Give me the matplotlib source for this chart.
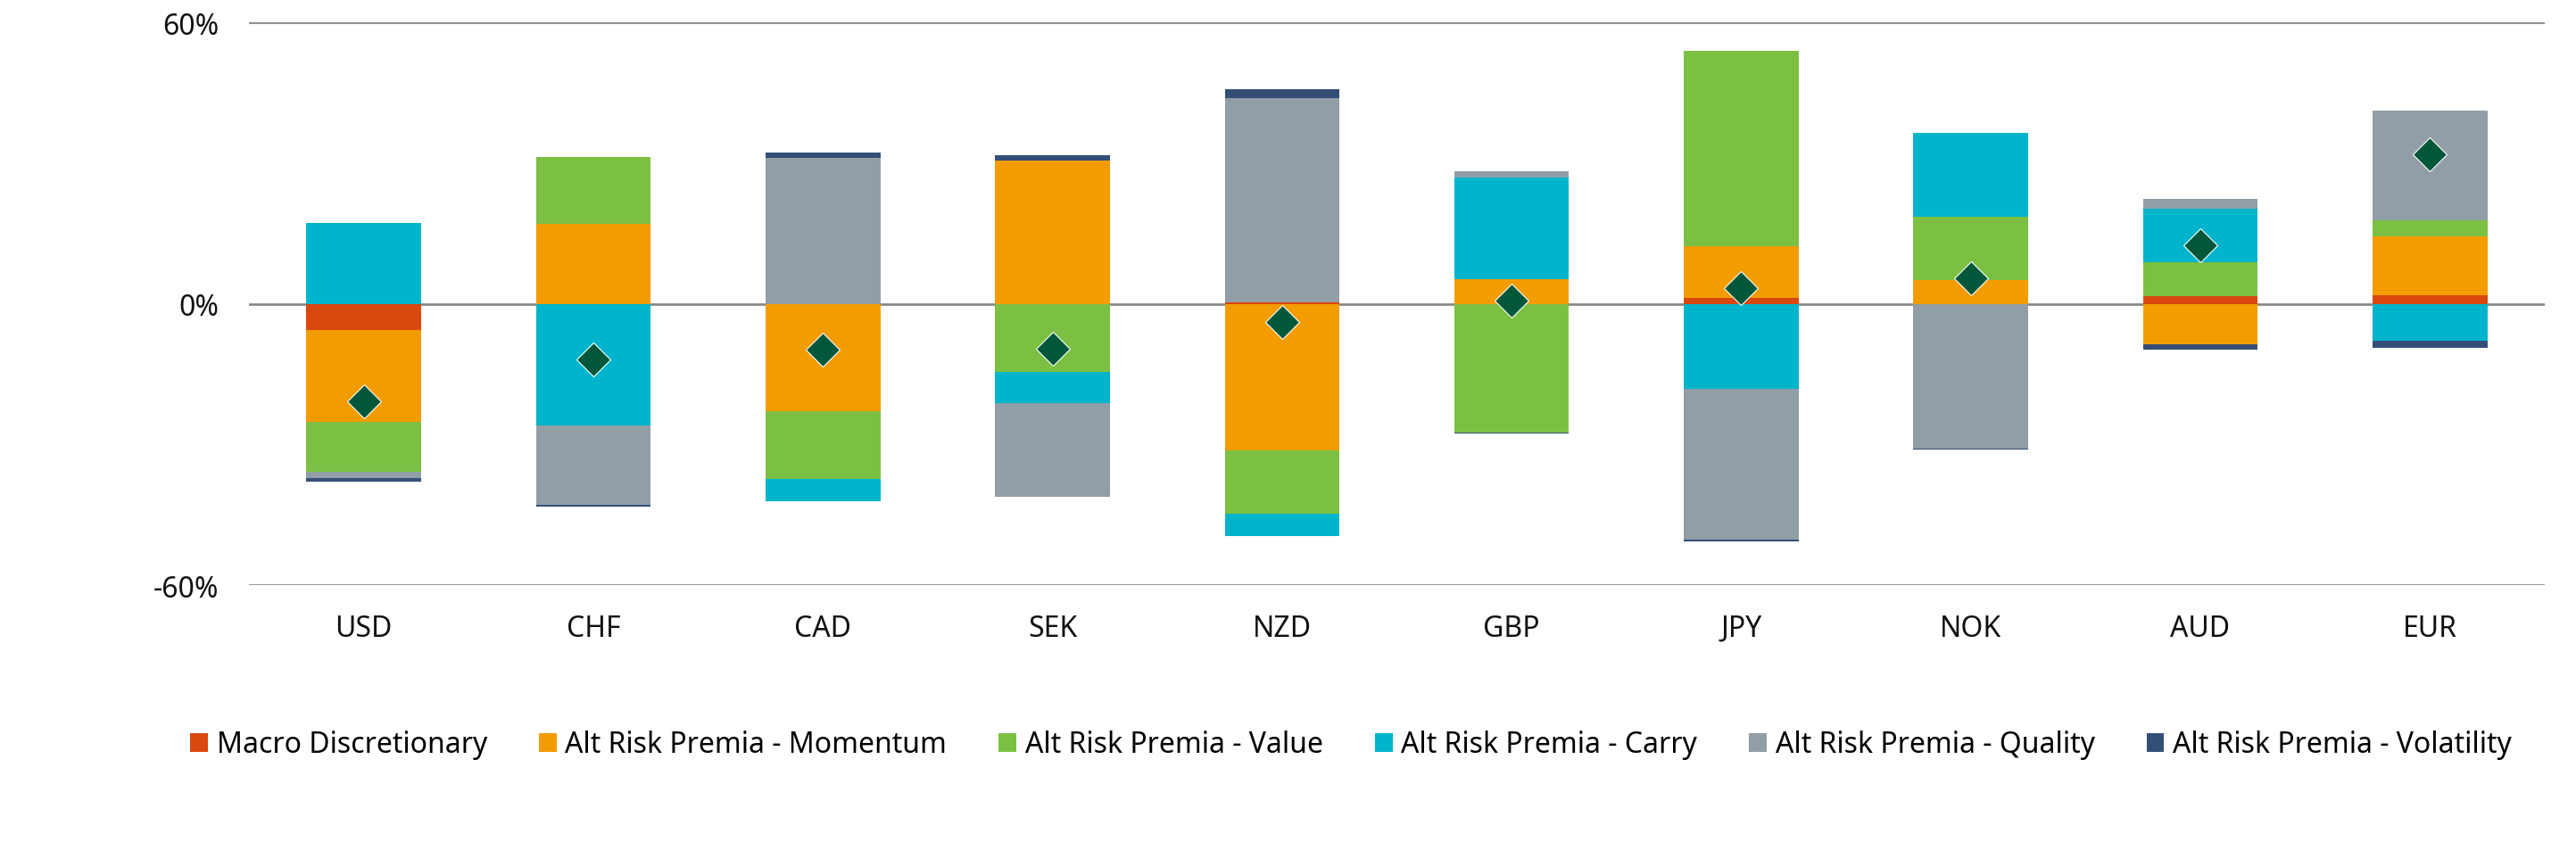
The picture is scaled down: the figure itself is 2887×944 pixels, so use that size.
import numpy as np
import matplotlib
matplotlib.use("Agg")
import matplotlib.pyplot as plt
from matplotlib.patches import Patch

plt.rcParams['font.family'] = ['Noto Sans', 'DejaVu Sans']

currencies = ["USD", "CHF", "CAD", "SEK", "NZD", "GBP", "JPY", "NOK", "AUD", "EUR"]

# Contribution by strategy, in percent
macro_discretionary = [-5.6, 0.0, 0.0, 0.0, 0.4, 0.0, 1.3, 0.0, 1.6, 1.8]
arp_momentum = [-19.5, 17.0, -22.9, 30.6, -31.2, 5.3, 11.0, 5.0, -8.7, 12.6]
arp_value = [-10.8, 14.4, -14.4, -14.6, -13.5, -27.4, 41.7, 13.5, 7.3, 3.4]
arp_carry = [17.25, -26.0, -4.8, -6.5, -4.8, 21.6, -18.2, 17.9, 11.3, -7.9]
arp_quality = [-1.2, -16.9, 31.1, -20.1, 43.5, 1.4, -32.1, -30.8, 2.1, 23.4]
arp_volatility = [-0.9, -0.4, 1.2, 1.1, 1.8, -0.2, -0.4, -0.2, -1.1, -1.4]

series_names = [
    "Macro Discretionary",
    "Alt Risk Premia - Momentum",
    "Alt Risk Premia - Value",
    "Alt Risk Premia - Carry",
    "Alt Risk Premia - Quality",
    "Alt Risk Premia - Volatility",
]
series_values = [macro_discretionary, arp_momentum, arp_value,
                 arp_carry, arp_quality, arp_volatility]
series_colors = ["#D9480F", "#F39C00", "#7CC043", "#00B5CB", "#919EA5", "#344F77"]

ytick_values = [-60, 0, 60]
ytick_labels = ["-60%", "0%", "60%"]

fig = plt.figure(figsize=(28.87, 9.45), dpi=100)
ax = fig.add_axes([279 / 2887, 1 - 657 / 945, (2852 - 279) / 2887, (657 - 26.3) / 945])

x = np.arange(len(currencies))
pos_base = np.zeros(len(currencies))
neg_base = np.zeros(len(currencies))
for name, vals, color in zip(series_names, series_values, series_colors):
    v = np.array(vals, dtype=float)
    base = np.where(v >= 0, pos_base, neg_base)
    ax.bar(x, v, bottom=base, width=0.5, color=color, label=name,
           linewidth=0, zorder=3)
    pos_base += np.where(v >= 0, v, 0)
    neg_base += np.where(v < 0, v, 0)

# Net position per currency
net = np.sum(np.array(series_values, dtype=float), axis=0)
ax.plot(x, net, linestyle="none", marker="D", markersize=19,
        markerfacecolor="#00573A", markeredgecolor="white",
        markeredgewidth=0.8, zorder=5)

ax.set_xlim(-0.5, len(currencies) - 0.5)
ax.set_ylim(-60, 60)
ax.set_yticks(ytick_values)
ax.set_yticklabels(ytick_labels)
ax.set_xticks(x)
ax.set_xticklabels(currencies)
ax.tick_params(axis="y", length=0, pad=24, labelsize=23, labelcolor="#111111")
ax.tick_params(axis="x", length=0, pad=23, labelsize=23, labelcolor="#111111")
for s in ax.spines.values():
    s.set_visible(False)
for yv in ytick_values:
    ax.axhline(yv, color="#878787", linewidth=1.95, zorder=1)

handles = [Patch(facecolor=c, edgecolor="none") for c in series_colors]
fig.legend(handles, series_names, loc="center", bbox_to_anchor=(1514 / 2887, 1 - 836 / 945),
           ncol=6, frameon=False, fontsize=23, handlelength=0.62, handleheight=0.65,
           handletextpad=0.3, columnspacing=1.82, borderaxespad=0)

fig.savefig("out.png", dpi=100, facecolor="white")
